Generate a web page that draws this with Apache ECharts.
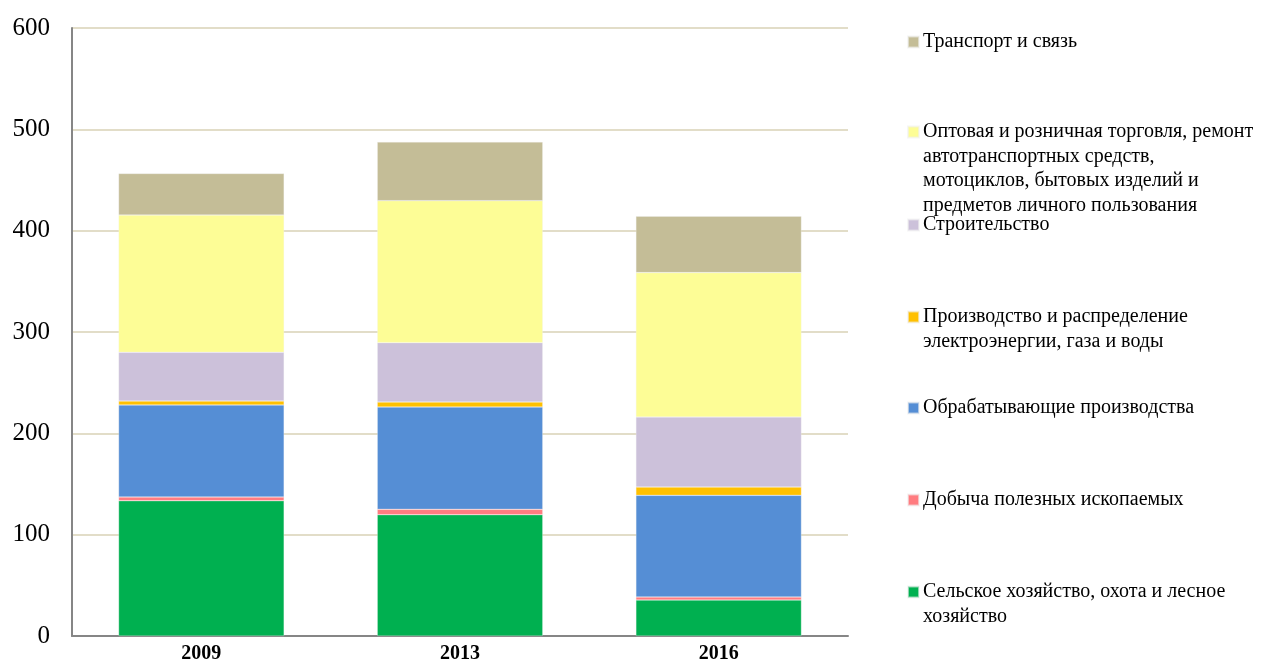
<!DOCTYPE html>
<html>
<head>
<meta charset="utf-8">
<script src="https://cdn.jsdelivr.net/npm/echarts@6/dist/echarts.min.js"></script>
<style>
html,body{margin:0;padding:0;background:#fff;}
#chart{width:1276px;height:669px;}
</style>
</head>
<body>
<div id="chart"></div>
<script>
// ---- data ----
const categories = ['2009', '2013', '2016'];
const seriesNames = [
  'Сельское хозяйство, охота и лесное хозяйство',
  'Добыча полезных ископаемых',
  'Обрабатывающие производства',
  'Производство и распределение электроэнергии, газа и воды',
  'Строительство',
  'Оптовая и розничная торговля, ремонт автотранспортных средств, мотоциклов, бытовых изделий и предметов личного пользования',
  'Транспорт и связь'
];
const legendLabels = [
  ['Сельское хозяйство, охота и лесное', 'хозяйство'],
  ['Добыча полезных ископаемых'],
  ['Обрабатывающие производства'],
  ['Производство и распределение', 'электроэнергии, газа и воды'],
  ['Строительство'],
  ['Оптовая и розничная торговля, ремонт', 'автотранспортных средств,', 'мотоциклов, бытовых изделий и', 'предметов личного пользования'],
  ['Транспорт и связь']
];
const agriculture   = [133.5, 119.7, 35.5];
const mining        = [3.7, 5.3, 3.0];
const manufacturing = [90.8, 101.0, 100.3];
const utilities     = [3.9, 4.9, 8.2];
const construction  = [48.0, 58.6, 69.1];
const trade         = [135.5, 140.1, 142.5];
const transport     = [41.0, 57.9, 55.6];
const yTicks = [0, 100, 200, 300, 400, 500, 600];

// ---- styles / layout ----
const seriesData = [agriculture, mining, manufacturing, utilities, construction, trade, transport];
const colors = ['#00b050', '#ff7c80', '#558ed5', '#ffc000', '#ccc1da', '#fdfd96', '#c4bd97'];
const legendCenters = [592, 500, 408, 317, 225, 132, 42];
const LH = 24.5;

const chart = echarts.init(document.getElementById('chart'));

const legends = seriesNames.map((name, i) => {
  const n = legendLabels[i].length;
  const total = 2 * n - 1;
  return {
    show: true,
    orient: 'vertical',
    left: 907,
    top: legendCenters[i] - total * LH / 2,
    padding: 0,
    itemWidth: 11,
    itemHeight: 11,
    itemGap: 0,
    icon: 'rect',
    data: [name],
    formatter: () => {
      const pre = [];
      for (let k = 0; k < n - 1; k++) pre.push(' ');
      return pre.concat(legendLabels[i]).join('\n');
    },
    textStyle: {
      fontFamily: 'Liberation Serif, Times New Roman, serif',
      fontSize: 20,
      lineHeight: LH,
      color: '#000',
      padding: [0, 0, 0, -1]
    }
  };
});

chart.setOption({
  animation: false,
  backgroundColor: '#fff',
  color: colors,
  grid: { left: 72, right: 428, top: 28, bottom: 33, containLabel: false },
  legend: legends,
  xAxis: {
    type: 'category',
    data: categories,
    axisLine: { show: true, lineStyle: { color: '#868686', width: 2 } },
    axisTick: { show: false },
    axisLabel: {
      fontFamily: 'Liberation Serif, Times New Roman, serif',
      fontSize: 20,
      fontWeight: 'bold',
      color: '#000',
      margin: 8
    }
  },
  yAxis: {
    type: 'value',
    min: yTicks[0],
    max: yTicks[yTicks.length - 1],
    interval: 100,
    axisLine: { show: true, lineStyle: { color: '#868686', width: 2 } },
    axisTick: { show: false },
    splitLine: { show: true, lineStyle: { color: '#e2ddc8', width: 2 } },
    axisLabel: {
      fontFamily: 'Liberation Serif, Times New Roman, serif',
      fontSize: 25,
      color: '#000',
      margin: 22
    }
  },
  series: seriesNames.map((name, i) => ({
    name: name,
    type: 'bar',
    stack: 'total',
    barCategoryGap: '36%',
    data: seriesData[i],
    itemStyle: { color: colors[i], borderColor: 'rgba(240,240,240,0.6)', borderWidth: 0.5 }
  }))
});
</script>
</body>
</html>
